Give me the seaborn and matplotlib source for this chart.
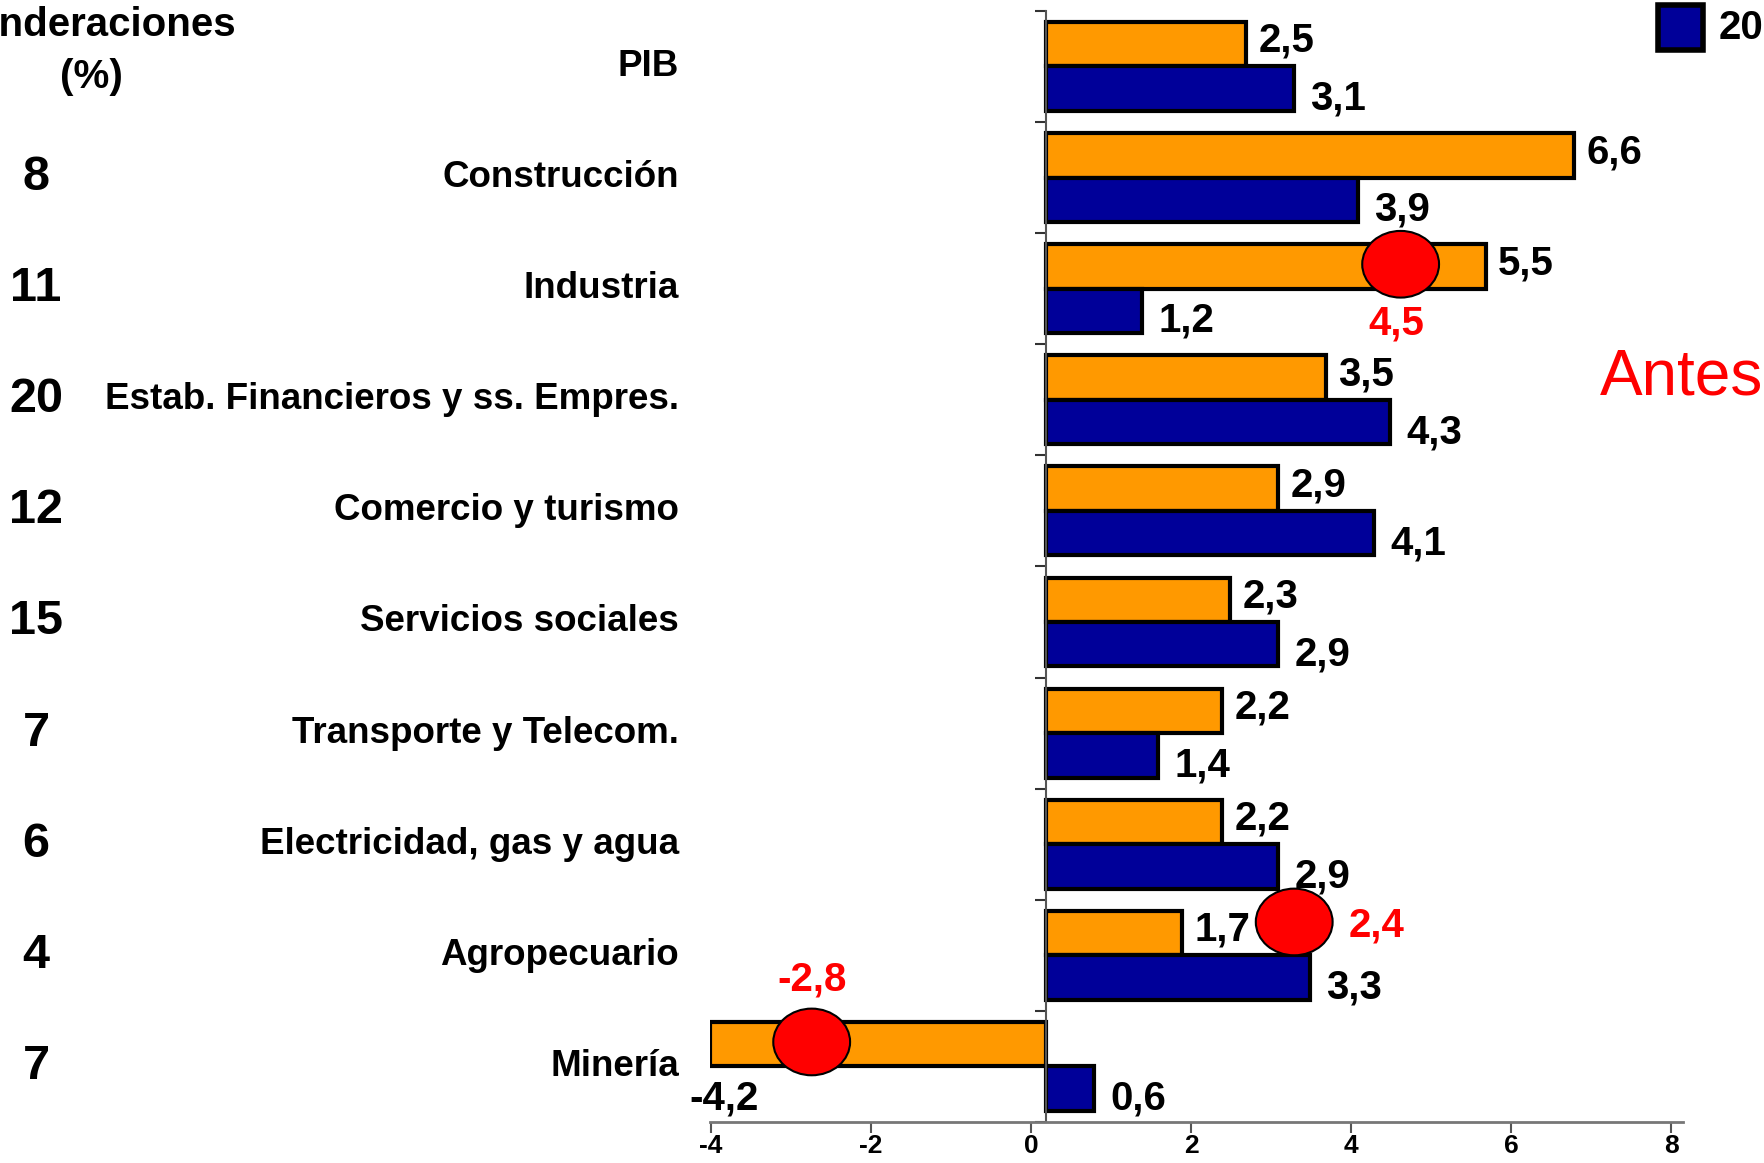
import numpy as np
import pandas as pd
import seaborn as sns
import matplotlib.pyplot as plt
from matplotlib.patches import Ellipse, Rectangle
from matplotlib.transforms import blended_transform_factory

# Datos
sectores = ["PIB", "Construcción", "Industria", "Estab. Financieros y ss. Empres.",
            "Comercio y turismo", "Servicios sociales", "Transporte y Telecom.",
            "Electricidad, gas y agua", "Agropecuario", "Minería"]
ponderaciones = ["", "8", "11", "20", "12", "15", "7", "6", "4", "7"]
serie_naranja = [2.5, 6.6, 5.5, 3.5, 2.9, 2.3, 2.2, 2.2, 1.7, -4.2]
serie_azul = [3.1, 3.9, 1.2, 4.3, 4.1, 2.9, 1.4, 2.9, 3.3, 0.6]
series = ["anterior", "20"]

# valores "antes" marcados con circulos rojos (sector, etiqueta, posicion)
antes_sector = ["Industria", "Agropecuario", "Minería"]
antes_label = ["4,5", "2,4", "-2,8"]
antes_pos = [4.43, 3.1, -2.93]

tick_vals = [-4, -2, 0, 2, 4, 6, 8]

naranja = "#FF9900"
azul = "#000099"
rojo = "#FF0000"
plt.rcParams["font.family"] = ["Liberation Sans", "DejaVu Sans"]
narrow = ["Liberation Sans Narrow", "Liberation Sans"]

df = pd.DataFrame({
    "sector": sectores * 2,
    "serie": [series[0]] * len(sectores) + [series[1]] * len(sectores),
    "valor": serie_naranja + serie_azul,
})

fig = plt.figure(figsize=(17.65, 11.63), dpi=100)
ax = fig.add_axes([0.4023, 0.0353, 0.5513, 0.9553])

sns.barplot(data=df, y="sector", x="valor", hue="serie", hue_order=series,
            order=sectores, palette=[naranja, azul], orient="h", saturation=1,
            edgecolor="black", linewidth=3, width=0.8, legend=False, ax=ax)

ax.set_ylim(9.5, -0.5)
ax.set_xlim(-4.2, 7.96)
ax.set_xlabel("")
ax.set_ylabel("")
for s in ["top", "right"]:
    ax.spines[s].set_visible(False)
ax.spines["left"].set_position(("data", 0))
ax.spines["left"].set_color("#555555")
ax.spines["left"].set_linewidth(1.5)
ax.spines["bottom"].set_color("#777777")
ax.spines["bottom"].set_linewidth(2)

ax.set_yticks(np.arange(-0.5, 10, 1))
ax.set_yticklabels([])
ax.tick_params(axis="y", length=8, width=1.5, color="#333333")

# etiquetas del eje x algo desplazadas respecto a las barras, como en el original
ax.set_xticks([t - 0.19 for t in tick_vals])
ax.set_xticklabels([str(t) for t in tick_vals], fontsize=19, fontweight="bold", family=narrow)
ax.tick_params(axis="x", length=8, width=1.5, color="#555555", pad=1)

# etiquetas de valores
for i, (vo, vb) in enumerate(zip(serie_naranja, serie_azul)):
    if vo < 0:
        ax.text(vo + 0.17, i + 0.29, f"{vo:.1f}".replace(".", ","), ha="center", va="center",
                fontsize=29, fontweight="bold")
    else:
        ax.text(vo + 0.15, i - 0.23, f"{vo:.1f}".replace(".", ","), ha="left", va="center",
                fontsize=29, fontweight="bold")
    ax.text(vb + 0.2, i + 0.29, f"{vb:.1f}".replace(".", ","), ha="left", va="center",
            fontsize=29, fontweight="bold")

# circulos rojos y valores antes
lbl_offsets = {"Industria": (-0.05, 0.31, "center"), "Agropecuario": (0.68, -0.27, "left"),
               "Minería": (0.0, -0.78, "center")}
for sec, lab, xpos in zip(antes_sector, antes_label, antes_pos):
    i = sectores.index(sec)
    yc = i - 0.22 if sec != "Agropecuario" else i - 0.3
    ax.add_patch(Ellipse((xpos, yc), 0.96, 0.6, facecolor=rojo, edgecolor="black",
                         linewidth=1.5, zorder=5))
    dx, dy, ha = lbl_offsets[sec]
    ax.text(xpos + dx, i + dy, lab, color=rojo, ha=ha, va="center", fontsize=29,
            fontweight="bold", zorder=6)

# nombres de sectores y ponderaciones
trans = blended_transform_factory(fig.transFigure, ax.transData)
for i, (sec, pond) in enumerate(zip(sectores, ponderaciones)):
    ax.text(0.3847, i, sec, transform=trans, ha="right", va="center", fontsize=26.5,
            fontweight="bold", clip_on=False)
    if pond:
        ax.text(0.0204, i, pond, transform=trans, ha="center", va="center", fontsize=35,
                fontweight="bold", clip_on=False)

fig.text(0.052, 0.9785, "Ponderaciones", ha="center", va="center", fontsize=29, fontweight="bold")
fig.text(0.052, 0.934, "(%)", ha="center", va="center", fontsize=29, fontweight="bold")

# leyenda parcial y texto "Antes"
fig.patches.append(Rectangle((0.9394, 0.957), 0.0255, 0.0387, transform=fig.transFigure,
                             facecolor=azul, edgecolor="black", linewidth=4))
fig.text(0.974, 0.976, "20", ha="left", va="center", fontsize=29, fontweight="bold")
fig.text(0.9065, 0.661, "Antes", color=rojo, ha="left", va="baseline", fontsize=46)

fig.savefig("out.png", dpi=100)
